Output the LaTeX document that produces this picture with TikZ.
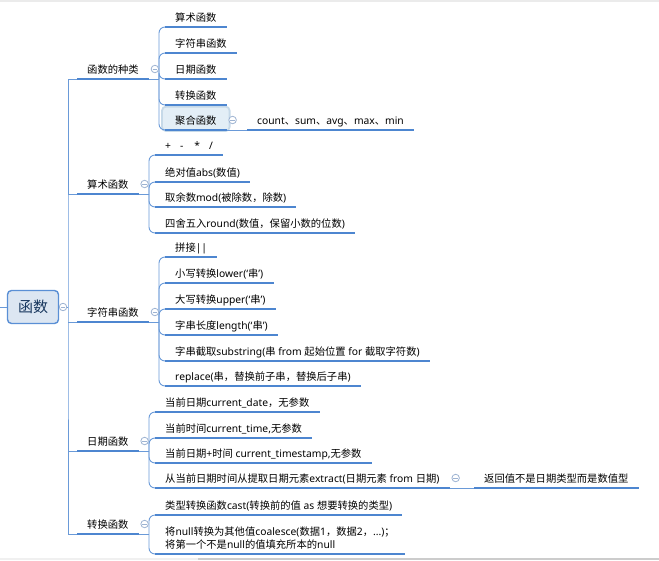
\documentclass[tikz,border=0pt]{standalone}
\usepackage{fontspec}
\setmainfont{Noto Sans CJK SC}
\newfontfamily\latf{Noto Sans}
\newcommand\lt[1]{{\latf #1}}
\usetikzlibrary{calc,fit,backgrounds}
\definecolor{lnc}{HTML}{6A9AD8}
\definecolor{ulc}{HTML}{4D86D0}
\definecolor{btnc}{HTML}{9DB3D2}
\definecolor{rootfill}{HTML}{DCE6F2}
\definecolor{rootdraw}{HTML}{5A8FD5}
\definecolor{roottext}{HTML}{17365D}
\definecolor{hlfill}{HTML}{E3EEF6}
\definecolor{hldraw}{HTML}{C6D9E8}
\begin{document}
\begin{tikzpicture}[x=1pt,y=-1pt,
  conn/.style={draw=lnc, line width=0.9pt},
  ulin/.style={draw=ulc, line width=2.4pt},
  t/.style={font=\fontsize{10.3}{13}\selectfont, inner xsep=10pt, inner ysep=3pt, text height=8pt, text depth=2pt, anchor=south west},
  ttwo/.style={font=\fontsize{10.3}{13}\selectfont, inner xsep=10pt, inner ysep=4pt, anchor=south west, align=left},
  btn/.style={circle, draw=btnc, fill=white, minimum size=7.5pt, inner sep=0pt, line width=0.8pt,
    path picture={\draw[btnc, line width=0.8pt] ([xshift=-2.2pt]path picture bounding box.center) -- ([xshift=2.2pt]path picture bounding box.center);}},
  rootbox/.style={rectangle, rounded corners=4pt, minimum width=51pt, minimum height=33pt, fill=rootfill, draw=rootdraw, line width=1.4pt, text=roottext, font=\fontsize{15}{18}\selectfont, inner sep=0pt},
  hlbox/.style={rectangle, rounded corners=4pt, fill=hlfill, draw=hldraw, line width=1.8pt, inner sep=0pt}
]
\useasboundingbox (0,0) rectangle (659,560);
\fill[black!8] (0,0) rectangle (659,1.5);
\fill[black!6] (0,557.5) rectangle (659,560);
\fill[black!20] (198,557.5) rectangle (659,560);

% root
\node[rootbox] (r) at (33,307) {函数};
\coordinate (ls) at (0,307);
\coordinate (tr) at (68,307);

% level 1
\node[t] (k1) at (77,79) {函数的种类};
\node[t] (k2) at (77,194) {算术函数};
\node[t] (k3) at (77,322) {字符串函数};
\node[t] (k4) at (77,451) {日期函数};
\node[t] (k5) at (77,534) {转换函数};

% children of k1
\node[t] (a1) at (165,27) {算术函数};
\node[t] (a2) at (165,53) {字符串函数};
\node[t] (a3) at (165,79) {日期函数};
\node[t] (a4) at (165,105) {转换函数};
\node[t] (a5) at (165,130) {聚合函数};
\node[t] (a6) at (247,130) {\lt{count}、\lt{sum}、\lt{avg}、\lt{max}、\lt{min}};
\coordinate (hla) at ($(a5.north west)+(-3,-7)$);
\coordinate (hlb) at ($(a5.south east)+(3,1)$);
\begin{scope}[on background layer]
\node[hlbox, fit=(hla)(hlb)] (a5box) {};
\end{scope}

% children of k2
\node[t] (b1) at (155,155) {\lt{+\hspace{9pt}-\hspace{11pt}*\hspace{9pt}/}};
\node[t] (b2) at (155,182) {绝对值\lt{abs(}数值\lt{)}};
\node[t] (b3) at (155,207) {取余数\lt{mod(}被除数，除数\lt{)}};
\node[t] (b4) at (155,233) {四舍五入\lt{round(}数值，保留小数的位数\lt{)}};

% children of k3
\node[t] (c1) at (165,257) {拼接\lt{||}};
\node[t] (c2) at (165,283) {小写转换\lt{lower(‘}串\lt{’)}};
\node[t] (c3) at (165,309) {大写转换\lt{upper(‘}串\lt{’)}};
\node[t] (c4) at (165,335) {字串长度\lt{length(‘}串\lt{’)}};
\node[t] (c5) at (165,361) {字串截取\lt{substring(}串\lt{ from }起始位置\lt{ for }截取字符数\lt{)}};
\node[t] (c6) at (165,386) {\lt{replace(}串，替换前子串，替换后子串\lt{)}};

% children of k4
\node[t] (d1) at (155,412) {当前日期\lt{current\_date}，无参数};
\node[t] (d2) at (155,438) {当前时间\lt{current\_time,}无参数};
\node[t] (d3) at (155,463) {当前日期\lt{+}时间\lt{ current\_timestamp,}无参数};
\node[t] (d4) at (155,488) {从当前日期时间从提取日期元素\lt{extract(}日期元素\lt{ from }日期\lt{)}};
\node[t] (d5) at (474,488) {返回值不是日期类型而是数值型};

% children of k5
\node[t] (e1) at (155,515) {类型转换函数\lt{cast(}转换前的值\lt{ as }想要转换的类型\lt{)}};
\node[ttwo] (e2) at (155,554) {将\lt{null}转换为其他值\lt{coalesce(}数据\lt{1}，数据\lt{2}，\lt{...)}；\\将第一个不是\lt{null}的值填充所本的\lt{null}};

% junctions
\coordinate (j1) at (159,79);
\coordinate (j2) at (149,194);
\coordinate (j3) at (159,322);
\coordinate (j4) at (149,451);
\coordinate (j5) at (149,534);

% connectors
\draw[conn] (ls) -- (r.west);
\draw[conn] (r.east) -- (tr);
\draw[conn] (k1.south west) -| (tr) |- (k5.south west);
\foreach \n in {k2,k3,k4} \draw[conn] (tr |- \n.south west) -- (\n.south west);
\foreach \p/\j in {k1/j1,k2/j2,k3/j3,k4/j4,k5/j5} \draw[conn] (\p.south east) -- (\j);
\foreach \c in {a1,a2,a3,a4,a5} \draw[conn, rounded corners=6pt] (j1) |- (\c.south west);
\foreach \c in {b1,b2,b3,b4} \draw[conn, rounded corners=6pt] (j2) |- (\c.south west);
\foreach \c in {c1,c2,c3,c4,c5,c6} \draw[conn, rounded corners=6pt] (j3) |- (\c.south west);
\foreach \c in {d1,d2,d3,d4} \draw[conn, rounded corners=6pt] (j4) |- (\c.south west);
\foreach \c in {e1,e2} \draw[conn, rounded corners=6pt] (j5) |- (\c.south west);
\draw[conn] (a5.south east) -- (a6.south west);
\draw[conn] (d4.south east) -- (d5.south west);

% underlines
\foreach \n in {k1,k2,k3,k4,k5,a1,a2,a3,a4,a5,a6,b1,b2,b3,b4,c1,c2,c3,c4,c5,c6,d1,d2,d3,d4,d5,e1,e2}
  \draw[ulin] (\n.south west) -- (\n.south east);

% collapse buttons
\node[btn] (br) at (63,307) {};
\foreach \n in {k1,k2,k3,k4,k5,a5,d4}
  \node[btn] (btn\n) at ($(\n.south east)+(6,-10)$) {};
\end{tikzpicture}
\end{document}
